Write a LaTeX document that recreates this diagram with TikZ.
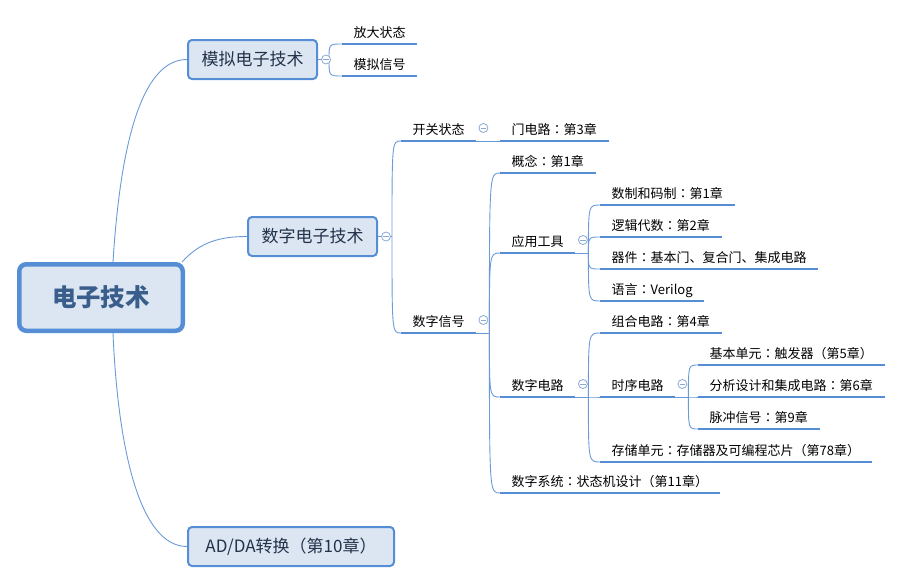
\documentclass[tikz,border=0pt]{standalone}
\usepackage{fontspec}
\setmainfont{Noto Sans CJK SC}
\newfontfamily\tcfont{Noto Sans CJK TC}
\newcommand\qc{{\tcfont ：}}
\usetikzlibrary{calc}
\pgfdeclarelayer{bg}
\pgfsetlayers{bg,main}
\definecolor{boxblue}{HTML}{558ED5}
\definecolor{boxfill}{HTML}{DCE6F2}
\definecolor{connc}{HTML}{6A9AD9}
\definecolor{ulc}{HTML}{558ED5}
\definecolor{foldc}{HTML}{8AA9D6}
\definecolor{roottext}{HTML}{3A5E8C}
\definecolor{maintext}{HTML}{22324A}
\newcommand\leafnode[4]{%
  \node[leaf] (#1) at (#2,#3-7) {#4};
  \coordinate (#1-s) at ([yshift=-7pt]#1.base west);
  \coordinate (#1-e) at ([yshift=-7pt]#1.base east);
  \draw[ul] (#1-s) -- (#1-e);
}
\newcommand\branchto[2]{%
  \draw[conn] (#1) .. controls (#1 |- #2-s) and (#1 |- #2-s) .. (#2-s);
}
\begin{document}
\begin{tikzpicture}[x=1pt,y=-1pt,
  mainbox/.style={draw=boxblue, line width=2pt, fill=boxfill, rounded corners=4pt,
    minimum height=39pt, inner sep=0pt, font=\fontsize{17}{20}\selectfont, text=maintext},
  rootbox/.style={draw=boxblue, line width=4.5pt, fill=boxfill, rounded corners=7pt,
    minimum width=163.5pt, minimum height=66.5pt, inner sep=0pt,
    font=\fontsize{24.5}{28}\selectfont\bfseries, text=roottext},
  leaf/.style={anchor=base west, inner xsep=11.5pt, inner ysep=0pt,
    font=\fontsize{13}{15}\selectfont, text=black},
  conn/.style={draw=connc, line width=0.9pt},
  ul/.style={draw=ulc, line width=2.6pt},
  fold/.style={circle, draw=foldc, fill=white, line width=0.8pt, minimum size=9pt,
    inner sep=0pt, path picture={\draw[foldc, line width=0.8pt]
      ([xshift=-2.6pt]path picture bounding box.center) --
      ([xshift=2.6pt]path picture bounding box.center);}}
]
\useasboundingbox (0,0) rectangle (903,584);

% main nodes
\node[rootbox] (root) at (101,297.5) {电子技术};
\node[mainbox, minimum width=129pt] (ana) at (252.5,59.5) {模拟电子技术};
\node[mainbox, minimum width=129pt] (dig) at (312.5,236.5) {数字电子技术};
\node[mainbox, minimum width=206pt] (adda) at (291,546.5) {AD/DA转换（第10章）};

% leaves
\leafnode{fdzt}{342}{44}{放大状态}
\leafnode{mnxh}{342}{76}{模拟信号}
\leafnode{kgzt}{401}{141}{开关状态}
\leafnode{szxh}{401}{333}{数字信号}
\leafnode{mdl}{500}{141}{门电路\qc 第3章}
\leafnode{gn}{500}{173}{概念\qc 第1章}
\leafnode{yygj}{500}{253}{应用工具}
\leafnode{szdl}{500}{397}{数字电路}
\leafnode{szxt}{500}{493}{数字系统\qc 状态机设计（第11章）}
\leafnode{szm}{600}{205}{数制和码制\qc 第1章}
\leafnode{ljds}{600}{237}{逻辑代数\qc 第2章}
\leafnode{qj}{600}{269}{器件\qc 基本门、复合门、集成电路}
\leafnode{yy}{600}{301}{语言\qc Verilog}
\leafnode{zhdl}{600}{333}{组合电路\qc 第4章}
\leafnode{sxdl}{600}{397}{时序电路}
\leafnode{ccdy}{600}{462}{存储单元\qc 存储器及可编程芯片（第78章）}
\leafnode{jbdy}{698}{365}{基本单元\qc 触发器（第5章）}
\leafnode{fxsj}{698}{397}{分析设计和集成电路\qc 第6章}
\leafnode{mcxh}{698}{429}{脉冲信号\qc 第9章}

% branch points
\coordinate (b-ana) at ([xshift=11pt]ana.east);
\coordinate (b-dig) at ([xshift=14pt]dig.east);
\coordinate (b-szxh) at ([xshift=13pt]szxh-e);
\coordinate (b-yygj) at ([xshift=13pt]yygj-e);
\coordinate (b-szdl) at ([xshift=13pt]szdl-e);
\coordinate (b-sxdl) at ([xshift=13pt]sxdl-e);

\begin{pgfonlayer}{bg}
  \draw[conn] ([xshift=12pt]root.north) .. controls (120,150) and (140,59.5) .. (ana.west);
  \draw[conn] ([xshift=-3pt]root.north east) .. controls (200,242) and (220,236.5) .. (dig.west);
  \draw[conn] ([xshift=12pt]root.south) .. controls (118,450) and (140,546.5) .. (adda.west);
  \draw[conn] (ana.east) -- (b-ana);
  \branchto{b-ana}{fdzt}
  \branchto{b-ana}{mnxh}
  \draw[conn] (dig.east) -- (b-dig);
  \branchto{b-dig}{kgzt}
  \branchto{b-dig}{szxh}
  \draw[conn] (kgzt-e) -- (mdl-s);
  \draw[conn] (szxh-e) -- (b-szxh);
  \branchto{b-szxh}{gn}
  \branchto{b-szxh}{yygj}
  \branchto{b-szxh}{szdl}
  \branchto{b-szxh}{szxt}
  \draw[conn] (yygj-e) -- (b-yygj);
  \branchto{b-yygj}{szm}
  \branchto{b-yygj}{ljds}
  \branchto{b-yygj}{qj}
  \branchto{b-yygj}{yy}
  \draw[conn] (szdl-e) -- (b-szdl);
  \branchto{b-szdl}{zhdl}
  \branchto{b-szdl}{sxdl}
  \branchto{b-szdl}{ccdy}
  \draw[conn] (sxdl-e) -- (b-sxdl);
  \branchto{b-sxdl}{jbdy}
  \branchto{b-sxdl}{fxsj}
  \branchto{b-sxdl}{mcxh}
\end{pgfonlayer}

% fold markers
\node[fold] (f-ana) at ([xshift=8pt]ana.east) {};
\node[fold] (f-dig) at ([xshift=8pt]dig.east) {};
\node[fold] (f-kgzt) at ([xshift=7pt,yshift=6pt]kgzt.base east) {};
\node[fold] (f-szxh) at ([xshift=7pt,yshift=6pt]szxh.base east) {};
\node[fold] (f-yygj) at ([xshift=7.5pt,yshift=6pt]yygj.base east) {};
\node[fold] (f-szdl) at ([xshift=7.5pt,yshift=6pt]szdl.base east) {};
\node[fold] (f-sxdl) at ([xshift=7pt,yshift=6pt]sxdl.base east) {};
\end{tikzpicture}
\end{document}
